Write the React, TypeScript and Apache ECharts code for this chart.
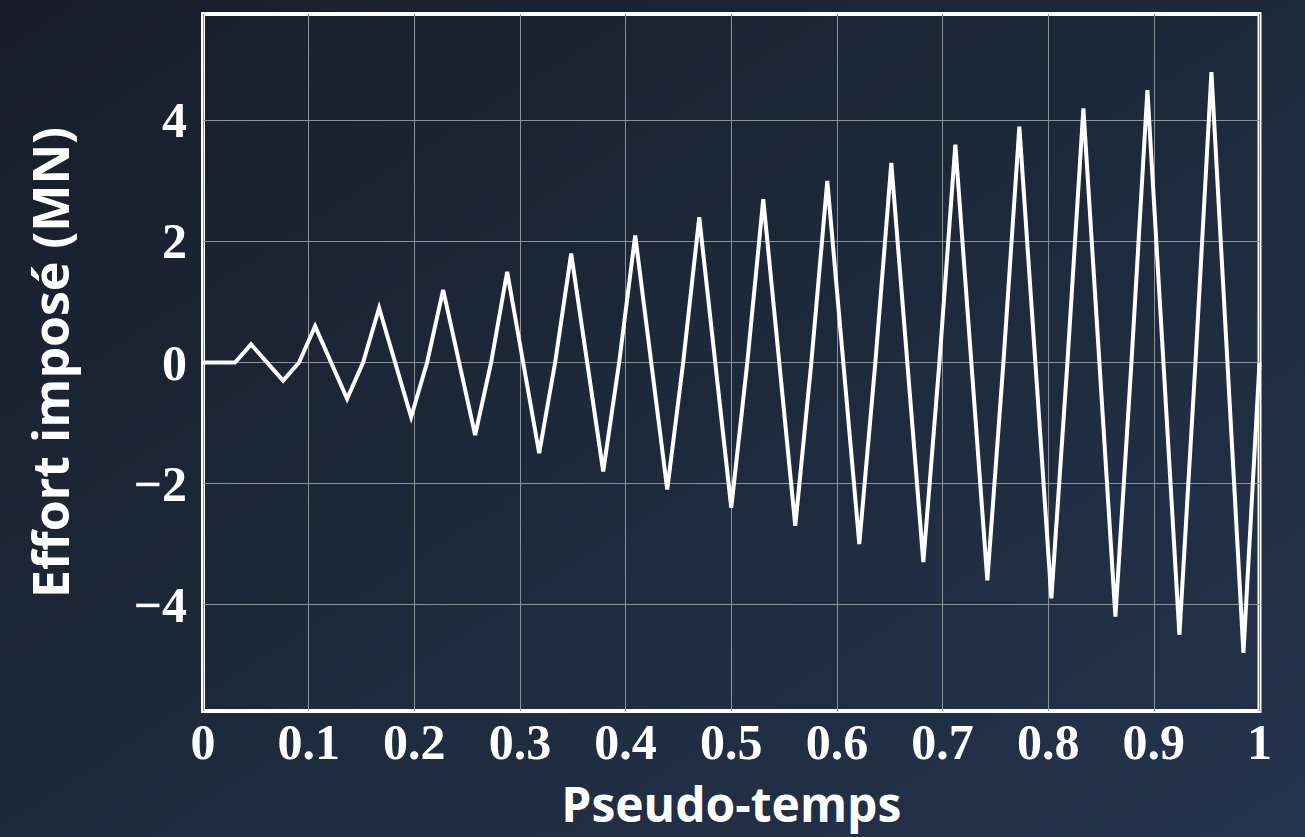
import React, { useEffect, useRef } from "react";
import * as echarts from "echarts";

// Pseudo-time instants of the loading path (vertices of the polyline)
const pseudoTime = [
  0, 0.0303, 0.0455, 0.0758, 0.0909, 0.1061, 0.1364, 0.1515, 0.1667, 0.197,
  0.2121, 0.2273, 0.2576, 0.2727, 0.2879, 0.3182, 0.3333, 0.3485, 0.3788,
  0.3939, 0.4091, 0.4394, 0.4545, 0.4697, 0.5, 0.5152, 0.5303, 0.5606, 0.5758,
  0.5909, 0.6212, 0.6364, 0.6515, 0.6818, 0.697, 0.7121, 0.7424, 0.7576,
  0.7727, 0.803, 0.8182, 0.8333, 0.8636, 0.8788, 0.8939, 0.9242, 0.9394,
  0.9545, 0.9848, 1.0,
];

// Imposed force (MN) at each instant: cyclic loading with growing amplitude
const effort = [
  0, 0, 0.3, -0.3, 0, 0.6, -0.6, 0, 0.9, -0.9, 0, 1.2, -1.2, 0, 1.5, -1.5, 0,
  1.8, -1.8, 0, 2.1, -2.1, 0, 2.4, -2.4, 0, 2.7, -2.7, 0, 3.0, -3.0, 0, 3.3,
  -3.3, 0, 3.6, -3.6, 0, 3.9, -3.9, 0, 4.2, -4.2, 0, 4.5, -4.5, 0, 4.8, -4.8, 0,
];

const yTicks = [-4, -2, 0, 2, 4];
const yLimit = 5.76;

const xTitle = "Pseudo-temps";
const yTitle = "Effort imposé (MN)";

const tickFont = {
  color: "#ffffff",
  fontFamily: "'Liberation Serif', serif",
  fontWeight: "bold" as const,
  fontSize: 50,
};

const titleFont = {
  color: "#ffffff",
  fontFamily: "'Open Sans', sans-serif",
  fontWeight: "bold" as const,
};

const gridColor = "#8c929a";

export default function App() {
  const ref = useRef<HTMLDivElement>(null);

  useEffect(() => {
    if (!ref.current) return;
    const chart = echarts.init(ref.current, undefined, { renderer: "svg" });
    const points = pseudoTime.map((t, i) => [t, effort[i]]);

    chart.setOption({
      animation: false,
      backgroundColor: new echarts.graphic.LinearGradient(0, 0, 1, 1, [
        { offset: 0, color: "#171e29" },
        { offset: 1, color: "#24344d" },
      ]),
      grid: {
        left: 203,
        right: 45.5,
        top: 14,
        bottom: 126,
        show: true,
        borderColor: "#ffffff",
        borderWidth: 4,
        backgroundColor: "transparent",
      },
      xAxis: {
        type: "value",
        min: 0,
        max: 1,
        interval: 0.1,
        axisLine: { show: false },
        axisTick: { show: false },
        axisLabel: {
          ...tickFont,
          margin: 6,
          formatter: (v: number) => String(Number(v.toFixed(1))),
        },
        splitLine: { show: true, lineStyle: { color: gridColor, width: 1 } },
        name: xTitle,
        nameLocation: "middle",
        nameGap: 67,
        nameTextStyle: { ...titleFont, fontSize: 48, lineHeight: 50 },
      },
      yAxis: {
        type: "value",
        min: -yLimit,
        max: yLimit,
        axisLine: { show: false },
        axisTick: { show: false, customValues: yTicks },
        axisLabel: {
          ...tickFont,
          margin: 16,
          customValues: yTicks,
          formatter: (v: number) => (v < 0 ? "\u2212" + Math.abs(v) : String(v)),
        },
        splitLine: { show: true, lineStyle: { color: gridColor, width: 1 } },
        name: yTitle,
        nameLocation: "middle",
        nameGap: 128,
        nameRotate: 90,
        nameTextStyle: { ...titleFont, fontSize: 50 },
      },
      series: [
        {
          type: "line",
          data: points,
          showSymbol: false,
          symbol: "none",
          lineStyle: {
            color: "#ffffff",
            width: 4,
            join: "miter",
            miterLimit: 10,
          },
        },
      ],
    });

    return () => chart.dispose();
  }, []);

  return (
    <div
      ref={ref}
      style={{ position: "fixed", left: 0, top: 0, width: 1305, height: 837 }}
    />
  );
}
